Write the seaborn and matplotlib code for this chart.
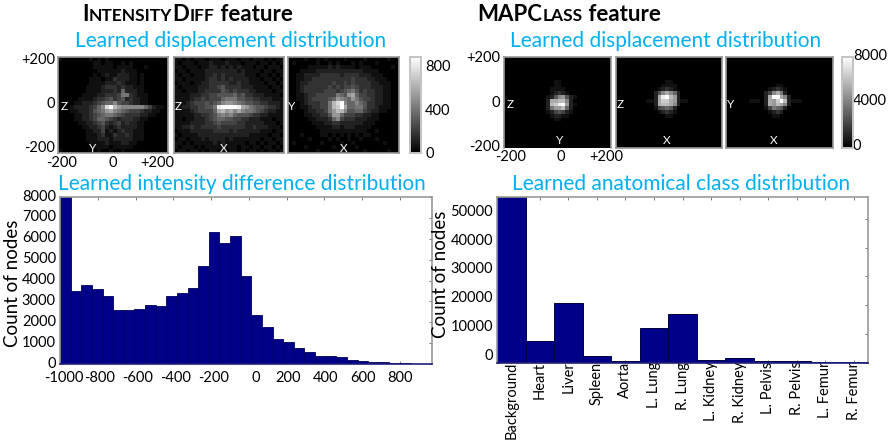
import numpy as np
import pandas as pd
import matplotlib
matplotlib.use("Agg")
import matplotlib.pyplot as plt
import matplotlib.transforms as mtrans
import seaborn as sns

intensity_counts = [8300, 3500, 3800, 3600, 3270, 2570, 2570, 2650, 2830, 2800, 3270, 3380, 3640, 4700,
                    6300, 5820, 6150, 4230, 2350, 1750, 1180, 1030, 790, 560, 400, 360, 350, 170, 130,
                    80, 80, 30, 30, 10, 10]
intensity_ticks = [-1000, -800, -600, -400, -200, 0, 200, 400, 600, 800]
intensity_yticks = [0, 1000, 2000, 3000, 4000, 5000, 6000, 7000, 8000]

class_names = ["Background", "Heart", "Liver", "Spleen", "Aorta", "L. Lung", "R. Lung", "L. Kidney",
               "R. Kidney", "L. Pelvis", "R. Pelvis", "L. Femur", "R. Femur"]
class_counts = [57570, 7630, 20800, 2300, 580, 12140, 16900, 1150, 1600, 800, 800, 500, 500]
class_yticks = [0, 10000, 20000, 30000, 40000, 50000]

# displacement heat maps, one hex digit per cell
intensity_zy = [
"1000000010101000000000000000","0000000001101100101000000000","0000000001111101111000100000",
"0000000000111111211100000000","0000000001012112221101000000","0000000011101132221101000000",
"0000000011112223211101000000","0000000111123332322111000000","0000000111122232622211000000",
"0000001111223334773211100000","0000011112334534523221100000","0000112223456685443221100000",
"000122223468dfb9888888642110","0001122235679a87654443221100","0000112234567765433332211000",
"0000112234665432333221100000","0000011223453234232211000000","0000001122342123222211000000",
"0000000112241212322111000000","0000000111231132232111000000","0000000111222122222111000000",
"0000000011112111221100000000","0000000001111011111000000000","1000000000100100100000000000"]
intensity_zx = [
"1101011101110111011011101011","1011101112111211101110110101","1101110112212121211101101110",
"0110111122222222121111011011","1011011122323222221110110101","1101111123323232222111011010",
"0111011223333322322111101101","1011112223345333322211110110","1101112233335434333221111011",
"1111222334455556453322211110","1111233434446777554433222111","1112344454568998765544332221",
"11223344557effffea9765543321","11112344446ab9a8a87765432211","1111122334578786555433221111",
"1101122234566554433222111011","1111222233454444332222211101","1122322333343333332232221110",
"0111222222333323222222111011","1011112222222222222111110110","0110111212222121111111011011",
"1101011111212111110110101101","1011101011111111011011011010","0110110101101011010110101101"]
intensity_yx = [
"0000100101000010000100000100","0100000100101000101000100000","0000011111212111101110000010",
"0001111222222222222111100000","0011222233333233332221110000","0011223333333333433322111000",
"0012233333343343433332211100","0012333333434344543332221100","0012333334443456753433221100",
"0011233444447659a64433221100","0011234444569876975443221100","00012333447bdf86686533221100",
"00011233447bcfa6677533211100","000012233479bb85566432211000","0000112233599644433221100000",
"0000011222368433322211100000","0000001112233222222111000000","0000000111122122211110000000",
"0000000011111111111100100000","0001000011010101010110000000","0000010000101001001000100000",
"0100000010000100100000001000","0000100000010000010000000000","0000000100000100000100000100"]
blank = "0000000000000000000000000000"
mapclass_zy = [blank]*6 + [
"0000000000000110000000000000","0000000000000110000000000000","0000000000001111000000000000",
"0000000000001232100000000000","0000000000012589521000000000","000000000002aabb820000000000",
"000000000002bcef921000000000","000000000002799b620000000000","0000000000012454210000000000",
"0000000000001221100000000000","0000000000000110000000000000"] + [blank]*7
mapclass_zx = [blank]*6 + [
"0000000000000110000000000000","0000000000001111000000000000","0000000000012321000000000000",
"0000000000258a86200000000000","00000000002aefb9200000000000","00000000112acca9211000000000",
"00000000002abba8200000000000","0000000000145652000000000000","0000000000012321000000000000",
"0000000000000110000000000000",blank] + [blank]*7
mapclass_yx = [blank]*7 + [
"0000000000000110000000000000","0000000000012321000000000000","0000000000248a72000000000000",
"00000000002affa8200000000000","00000011102a9cfb211100000000","00000000002a9ba8200000000000",
"0000000000147652000000000000","0000000000012320000000000000","0000000000001100000000000000",
blank] + [blank]*7

heat_title = "Learned displacement distribution"
hist_title = "Learned intensity difference distribution"
class_title = "Learned anatomical class distribution"

W, H = 890, 443
FONT = "Lato"
BLUE = "#00B0F0"
NAVY = "#000088"
GRAY = "#9a9a9a"

sns.set_theme(style="white")
plt.rcParams["font.family"] = [FONT, "DejaVu Sans"]
fig = plt.figure(figsize=(W / 100, H / 100), dpi=100, facecolor="white")


def px_axes(x0, y0, x1, y1):
    return fig.add_axes([x0 / W, 1 - y1 / H, (x1 - x0) / W, (y1 - y0) / H])


def px_text(x, y, s, **kw):
    kw.setdefault("ha", "center")
    kw.setdefault("va", "center")
    return fig.text(x / W, 1 - y / H, s, **kw)


def grid(rows, scale):
    return np.array([[int(c, 16) * scale for c in r.ljust(28, "0")[:28]] for r in rows], dtype=float)


def nudge(label, dx=0, dy=0):
    off = mtrans.ScaledTranslation(dx / 100, dy / 100, fig.dpi_scale_trans)
    label.set_transform(label.get_transform() + off)


def heat(box, rows, scale, vmax, cbar_ax=None):
    ax = px_axes(*box)
    sns.heatmap(grid(rows, scale), ax=ax, cmap="gray", vmin=0, vmax=vmax, cbar=cbar_ax is not None,
                cbar_ax=cbar_ax, xticklabels=False, yticklabels=False)
    for sp in ax.spines.values():
        sp.set_visible(True)
        sp.set_color(GRAY)
        sp.set_linewidth(1.2)
    ax.tick_params(length=0)
    return ax


def style_cbar(cax, ticks, labels, dy=0, pad=3):
    cax.set_yticks(ticks, labels, fontsize=10.5, color="black")
    cax.tick_params(length=0, pad=pad)
    for sp in cax.spines.values():
        sp.set_visible(True)
        sp.set_color("#c4c4c4")
        sp.set_linewidth(1.2)
    for t in cax.get_yticklabels():
        nudge(t, dy=dy)


def caps_header(x, y, parts):
    r = fig.canvas.get_renderer()
    for s, size in parts:
        t = fig.text(x / W, 1 - y / H, s, fontsize=size, fontweight="bold", color="black", ha="left",
                     va="baseline")
        x = t.get_window_extent(r).x1 + 0.3


# ---- left heat maps
c1 = px_axes(410, 57, 421, 153)
a1 = heat((58, 57, 168, 153), intensity_zy, 58, 880)
a2 = heat((174, 57, 284, 153), intensity_zx, 58, 880)
a3 = heat((288, 57, 399, 153), intensity_yx, 58, 880, cbar_ax=c1)
style_cbar(c1, [0, 400, 800], ["0", "400", "800"])

# ---- right heat maps
c2 = px_axes(842, 57, 853, 148)
b1 = heat((504, 57, 611, 148), mapclass_zy, 533, 8000)
b1.spines["bottom"].set_visible(False)
b2 = heat((616, 57, 722, 148), mapclass_zx, 533, 8000)
b3 = heat((726, 57, 833, 148), mapclass_yx, 533, 8000, cbar_ax=c2)
style_cbar(c2, [0, 4000, 8000], ["0", "4000", "8000"], dy=3, pad=0)

for x, y, s in [(64, 107, "Z"), (93, 148, "Y"), (178, 107, "Z"), (224, 148, "X"), (292, 106, "Y"), (344, 148, "X"),
                (510, 104, "Z"), (560, 141, "Y"), (620, 104, "Z"), (667, 141, "X"), (731, 105, "Y"), (774, 141, "X")]:
    px_text(x, y, s, color="white", fontsize=8.5)

for x, y, s, ha in [(55, 60, "+200", "right"), (55, 104, "0", "right"), (55, 148, "-200", "right"),
                    (62, 163, "-200", "center"), (113, 163, "0", "center"), (157, 163, "+200", "center"),
                    (500, 58, "+200", "right"), (500, 103, "0", "right"), (500, 147, "-200", "right"),
                    (511, 157, "-200", "center"), (561, 157, "0", "center"), (606, 157, "+200", "center")]:
    px_text(x, y, s, ha=ha, fontsize=10.5, color="black")

# ---- histogram
ax = px_axes(60, 197, 432, 364)
edges = np.linspace(-1000, 970, len(intensity_counts) + 1)
hist_df = pd.DataFrame({"value": (edges[:-1] + edges[1:]) / 2, "count": intensity_counts})
sns.histplot(data=hist_df, x="value", weights="count", bins=len(intensity_counts), binrange=(-1000, 970), color=NAVY,
             alpha=1, edgecolor="#00005a", linewidth=0.6, ax=ax)
ax.set_xlim(-1000, 970)
ax.set_ylim(0, 8000)
ax.set_xticks(intensity_ticks, [str(v) for v in intensity_ticks])
ax.set_yticks(intensity_yticks, [str(v) for v in intensity_yticks])
ax.set_xlabel("")
ax.set_ylabel("")

# ---- class bars
bx = px_axes(497, 197, 868, 363)
sns.barplot(x=class_names, y=class_counts, color=NAVY, saturation=1, width=1, edgecolor="#000040", linewidth=0.7,
            ax=bx)
bx.set_xlim(-0.5, 12.5)
bx.set_ylim(0, 57570)
bx.set_xticks(range(len(class_names)), class_names, rotation=90)
bx.set_yticks(class_yticks, [str(v) for v in class_yticks], va="bottom")

for a in (ax, bx):
    a.tick_params(axis="both", which="both", direction="in", length=2, width=0.7, color="#777777", top=True,
                  right=True, bottom=True, left=True, labelsize=10.5, labelcolor="black", pad=3)
    for sp in a.spines.values():
        sp.set_visible(True)
        sp.set_color(GRAY)
        sp.set_linewidth(1.2)
    a.spines["bottom"].set_color("#20207a")
bx.tick_params(axis="x", pad=-1)
ax.tick_params(axis="x", pad=5)

# the reference's tick labels sit slightly off their ticks
for t, dx in zip(ax.get_xticklabels(), [4, 2, 2, 2, 2, 7, 1, 1, 1, 0]):
    nudge(t, dx=dx)
for t in ax.get_yticklabels():
    nudge(t, dy=2)

px_text(13, 283, "Count of nodes", rotation=90, fontsize=13.5, color="black")
px_text(441, 274, "Count of nodes", rotation=90, fontsize=13.5, color="black")

# ---- titles
for x, y, s in [(231, 41, heat_title), (666, 41, heat_title), (242, 184, hist_title), (681, 184, class_title)]:
    px_text(x, y, s, color=BLUE, fontsize=15)

caps_header(82, 21, [("I", 16), ("NTENSITY", 12.5), ("D", 16), ("IFF", 12.5), (" feature", 16)])
caps_header(477, 21, [("MAPC", 16), ("LASS", 12.5), (" feature", 16)])

fig.savefig("out.png", dpi=100, facecolor="white")
